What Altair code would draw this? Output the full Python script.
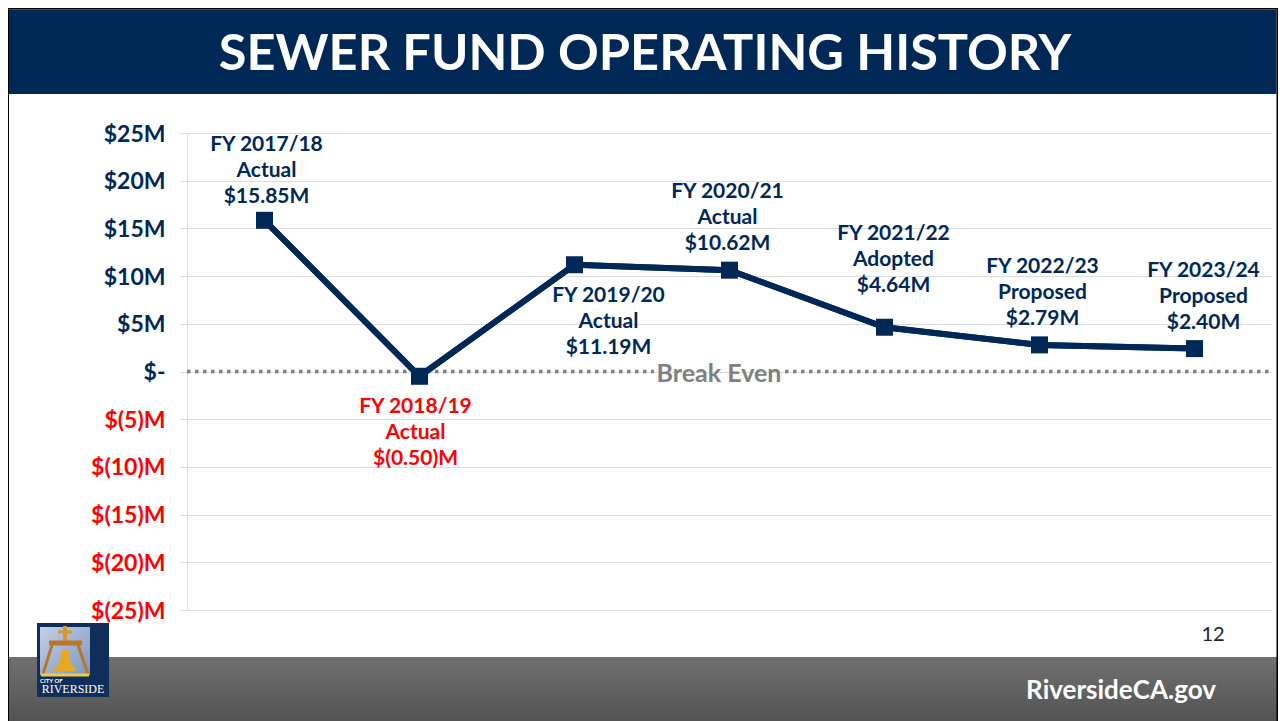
import altair as alt
import pandas as pd

categories = ["FY 2017/18", "FY 2018/19", "FY 2019/20", "FY 2020/21", "FY 2021/22", "FY 2022/23", "FY 2023/24"]
statuses = ["Actual", "Actual", "Actual", "Actual", "Adopted", "Proposed", "Proposed"]
values = [15.85, -0.50, 11.19, 10.62, 4.64, 2.79, 2.40]
value_labels = ["$15.85M", "$(0.50)M", "$11.19M", "$10.62M", "$4.64M", "$2.79M", "$2.40M"]
label_dx = [2, -4, 34, -2, 9, 3, 9]
label_dy = [-75, 31, 31, -78, -93, -78, -78]
ticks = [25, 20, 15, 10, 5, 0, -5, -10, -15, -20, -25]

NAVY = "#002856"
FONT = "Lato"
L, T = 187, 133   # plot origin on the page
W, H = 1085, 477
PAGE_W, PAGE_H = 1278, 721  # right and bottom edge of the drawing on the page

def px(x):
    return alt.value(x - L)

def py(y):
    return alt.value(y - T)

def rect(x0, y0, x1, y1, color, **kw):
    return alt.Chart(pd.DataFrame({"a": [0]})).mark_rect(color=color, **kw).encode(
        x=px(x0), x2=px(x1), y=py(y0), y2=py(y1))

def seg(x0, y0, x1, y1, color, width):
    return alt.Chart(pd.DataFrame({"a": [0]})).mark_rule(color=color, strokeWidth=width).encode(
        x=px(x0), x2=px(x1), y=py(y0), y2=py(y1))

def label(text, x, y, size, color="#ffffff", weight="normal", align="center", font=FONT):
    return alt.Chart(pd.DataFrame({"a": [0]})).mark_text(
        text=text, fontSize=size, color=color, fontWeight=weight, align=align,
        baseline="middle", font=font).encode(x=px(x), y=py(y))

df = pd.DataFrame({"cat": categories, "value": values})
X = alt.X("cat:N", sort=categories, axis=None, scale=alt.Scale(type="point", padding=0.5))
Y = alt.Y("value:Q", title=None, scale=alt.Scale(domain=[-25, 25], nice=False),
    axis=alt.Axis(
        values=ticks, grid=True, gridColor="#dcdcdc", gridWidth=1,
        domain=True, domainColor="#dcdcdc", tickColor="#dcdcdc", tickSize=7,
        labelFont=FONT, labelFontSize=23, labelFontWeight="bold", labelPadding=15,
        labelOffset=1,
        labelOverlap=False, labelFlush=False, labelBound=False,
        labelColor=alt.condition("datum.value < 0", alt.value("#ff0000"), alt.value(NAVY)),
        labelExpr="datum.value > 0 ? '$' + datum.value + 'M' : datum.value < 0 ? '$(' + abs(datum.value) + ')M' : '$-'",
    ))

base = alt.Chart(df).encode(x=X, y=Y)
line = base.mark_line(color=NAVY, strokeWidth=6)
points = base.mark_square(color=NAVY, size=289, opacity=1)

layers = [line]

# break-even reference line, interrupted behind its label
zero = pd.DataFrame({"value": [0]})
for x0, x1 in [(187, 654), (785, 1272)]:
    layers.append(alt.Chart(zero).mark_rule(color="#808080", strokeWidth=3.5, strokeDash=[3.5, 4.5]).encode(
        y=alt.Y("value:Q"), x=px(x0), x2=px(x1)))
layers.append(line)
layers.append(points)
layers.append(label("Break Even", 719, 374, 25, "#808080", "bold"))

for i, cat in enumerate(categories):
    color = "#ff0000" if values[i] < 0 else NAVY
    row = pd.DataFrame({"cat": [cat], "value": [values[i]],
                        "txt": [[cat, statuses[i], value_labels[i]]]})
    layers.append(alt.Chart(row).mark_text(
        font=FONT, fontSize=21, fontWeight="bold", color=color, lineHeight=26,
        align="center", baseline="middle", dx=label_dx[i], dy=label_dy[i],
    ).encode(x=X, y=alt.Y("value:Q"), text="txt:N"))

grad = {"gradient": "linear", "x1": 0, "y1": 0, "x2": 0, "y2": 1,
        "stops": [{"offset": 0, "color": "#707070"}, {"offset": 1, "color": "#535353"}]}
sky = {"gradient": "linear", "x1": 0, "y1": 0, "x2": 1, "y2": 1,
       "stops": [{"offset": 0, "color": "#c3d0e8"}, {"offset": 1, "color": "#7f96bd"}]}
gold = "#d9962a"

deco = [
    rect(8, 657, 1278, 721, grad),
    rect(8, 8, 9, 721, "#000000"),
    rect(1276.5, 8, 1278, 721, "#000000"),
    rect(8, 8, 1278, 9.5, "#000000"),
    rect(9, 9.5, 1276.5, 94, NAVY),
    label("SEWER FUND OPERATING HISTORY", 645, 55, 50.5, "#ffffff", "bold"),
    label("12", 1213, 635, 20, "#222222"),
    label("RiversideCA.gov", 1121, 691, 26, "#ffffff", "bold"),
    rect(37, 623, 109, 697, "#0f2f5a"),
    rect(40, 627, 90, 675, sky),
    seg(65, 626, 65, 645, gold, 4),
    seg(58, 632, 72, 632, gold, 3),
    seg(49, 643, 82, 643, "#b9772a", 5),
    seg(52, 645, 43, 674, "#b9772a", 3),
    seg(78, 645, 88, 674, "#b9772a", 3),
    seg(41, 675, 89, 675, "#f2c94c", 3),
    alt.Chart(pd.DataFrame({"a": [0]})).mark_point(
        shape="M -0.1 -1 L 0.1 -1 C 0.35 -0.95 0.4 -0.6 0.42 -0.2 C 0.45 0.2 0.6 0.5 1 0.8 L 1 1 L -1 1 L -1 0.8 C -0.6 0.5 -0.45 0.2 -0.42 -0.2 C -0.4 -0.6 -0.35 -0.95 -0.1 -1 Z",
        filled=True, color="#e8a824", size=480, opacity=1).encode(x=px(65), y=py(660)),
    label("CITY OF", 40, 681, 6, "#ffffff", "bold", "left"),
    label("RIVERSIDE", 73, 689, 12, "#ffffff", "normal", "center", "Liberation Serif"),
]

chart = alt.layer(*deco, *layers).properties(
    width=W, height=H,
    padding={"left": L - 8, "top": T - 8, "right": PAGE_W - L - W, "bottom": PAGE_H - T - H},
    autosize=alt.AutoSizeParams(type="none"),
    background="#ffffff",
).configure_view(stroke=None)

chart.save("out.html", embed_options={"renderer": "svg", "actions": False})
